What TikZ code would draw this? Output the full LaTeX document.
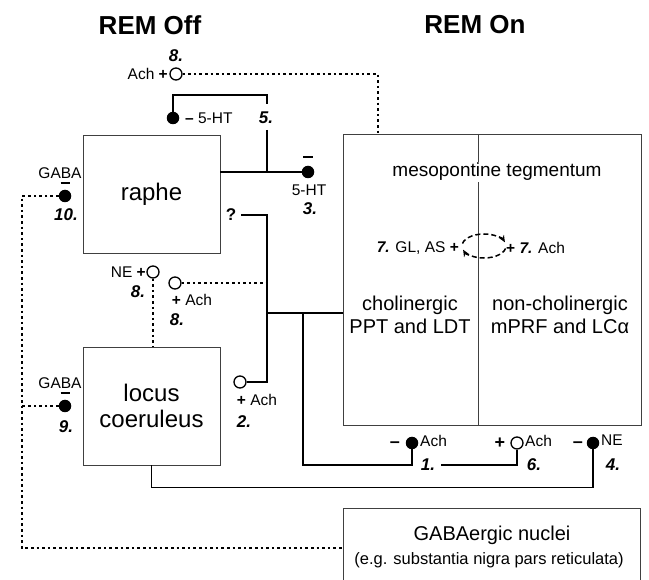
\documentclass[tikz,border=0pt]{standalone}
\usepackage{fontspec}
\setmainfont{Liberation Sans}
\usetikzlibrary{arrows.meta}
\begin{document}
\begin{tikzpicture}[x=1pt,y=-1pt,
  box/.style={draw=black!75,line width=0.9pt,inner sep=0pt},
  conn/.style={line width=1.8pt},
  dotc/.style={line width=2pt,dash pattern=on 2.6pt off 3pt},
  fdot/.style={circle,fill=black,inner sep=0pt,minimum size=12.5pt},
  odot/.style={circle,draw=black,fill=white,line width=1.3pt,inner sep=0pt,minimum size=12pt},
  bar/.style={line width=1.6pt},
  lbl/.style={font=\fontsize{15.5}{18}\selectfont,inner sep=0pt},
  sgn/.style={font=\fontsize{18}{20}\selectfont\bfseries,inner sep=0pt},
  num/.style={font=\fontsize{17}{19}\selectfont\bfseries\itshape,inner sep=0pt},
  title/.style={font=\fontsize{26}{30}\selectfont\bfseries,inner sep=0pt},
  big/.style={font=\fontsize{24}{28}\selectfont,align=center},
  mid/.style={font=\fontsize{20}{23}\selectfont,align=center,inner sep=0pt},
  loop/.style={line width=1.5pt,dash pattern=on 5pt off 3pt,-{Stealth[length=7pt,width=6pt]}}
]
\useasboundingbox (0,0) rectangle (649,580);

% titles
\node[title] (off) at (150,25) {REM Off};
\node[title] (on) at (475,25) {REM On};

% boxes
\node[box,big,minimum width=137pt,minimum height=118pt] (raphe) at (151.5,194) {raphe};
\node[box,big,minimum width=137pt,minimum height=118pt] (locus) at (151.5,406) {locus\\[-2pt]coeruleus};
\node[box,minimum width=298pt,minimum height=291pt] (meso) at (492,279.5) {};
\draw[box] (478,134) -- (478,425);
\node[box,minimum width=297pt,minimum height=100pt] (gaba) at (491.5,558) {};

% texts in boxes
\node[font=\fontsize{19}{22}\selectfont,fill=white,inner sep=1pt] (mt) at (497,172) {mesopontine tegmentum};
\node[mid,fill=white,inner sep=1pt] (chol) at (410,315) {cholinergic\\PPT and LDT};
\node[mid,fill=white,inner sep=1pt] (nonchol) at (560,315) {non-cholinergic\\mPRF and LCα};
\node[font=\fontsize{20}{23}\selectfont,inner sep=0pt] (gt1) at (492,535) {GABAergic nuclei};
\node[font=\fontsize{16.5}{19}\selectfont,inner sep=0pt] (gt2) at (489,560) {(e.g. substantia nigra pars reticulata)};

% 7. loop
\node[lbl,anchor=east] (l7a) at (459,248) {\textbf{\textit{7.}} GL, AS \textbf{+}};
\node[lbl,anchor=west] (l7b) at (506,248) {\textbf{+} \textbf{\textit{7.}} Ach};
\coordinate (lc) at (484,246);
\draw[loop] (lc) ++(192:22 and 12) arc[start angle=192,end angle=342,x radius=22,y radius=12];
\draw[loop] (lc) ++(12:22 and 12) arc[start angle=12,end angle=162,x radius=22,y radius=12];

% connector coordinates
\coordinate (t8) at (378,74);
\coordinate (jv) at (267,215);
\coordinate (jm) at (267,313);
\coordinate (jd) at (303,313);
\coordinate (gl) at (22,548);

% circles (nodes)
\node[odot] (o8a) at (176,74) {};
\node[fdot] (f5) at (173,118) {};
\node[fdot] (f3) at (308,172) {};
\node[fdot] (f10) at (65,196) {};
\node[fdot] (f9) at (65,406) {};
\node[odot] (o8b) at (153,272) {};
\node[odot] (o8c) at (175,283) {};
\node[odot] (o2) at (240,382) {};
\node[fdot] (f1) at (412,443) {};
\node[odot] (o6) at (517,443) {};
\node[fdot] (f4) at (593,443) {};

% connectors
\draw[dotc] (o8a) -- (t8) -- (t8 |- meso.north);
\draw[conn] (f5) -- (173,95) -- (267,95) -- (267,104);
\draw[conn] (267,130) -- (267,172);
\draw[conn] (raphe.east |- f3) -- (f3);
\node[font=\fontsize{17}{19}\selectfont\bfseries,inner sep=0pt] (q) at (231,215) {?};
\draw[conn] ([xshift=5pt]q.east) -- (jv) -- (267,382) -- (o2);
\draw[dotc] (o8c) -- (o8c -| jv);
\draw[conn] (jm) -- (jm -| meso.west);
\draw[conn] (jd) |- (412,465) -- (f1);
\draw[conn] (441,465) -| (o6);
\draw[conn] (locus.south) -- ++(0,22) -| (f4);
\draw[dotc] (o8b) -- (o8b |- locus.north);
\draw[dotc] (f10) -| (gl) -- (gl -| gaba.west);
\draw[dotc] (f9) -- (f9 -| gl);

% bars over inhibitory circles
\draw[bar] ([shift={(-5,-15)}]f3.center) -- ([shift={(5,-15)}]f3.center);
\draw[bar] ([shift={(-4.5,-13)}]f10.center) -- ([shift={(4.5,-13)}]f10.center);
\draw[bar] ([shift={(-4.5,-13)}]f9.center) -- ([shift={(4.5,-13)}]f9.center);

% labels
\node[num] (l8a) at (176,56) {8.};
\node[lbl,anchor=east] (ach8a) at (168,74) {Ach \textbf{+}};
\node[lbl,anchor=west] (ht5) at (185,118) {\textbf{–} 5-HT};
\node[num] (l5) at (266,118) {5.};
\node[lbl] (ht3) at (309,190) {5-HT};
\node[num] (l3) at (310,209) {3.};
\node[lbl] (gaba10) at (60,173) {GABA};
\node[num] (l10) at (66,215) {10.};
\node[lbl,anchor=east] (ne8) at (146,272) {NE \textbf{+}};
\node[num] (l8b) at (138,292) {8.};
\node[lbl] (ach8c) at (192,300) {\textbf{+} Ach};
\node[num] (l8c) at (177,320) {8.};
\node[lbl] (ach2) at (257,400) {\textbf{+} Ach};
\node[num] (l2) at (244,422) {2.};
\node[lbl] (gaba9) at (60,383) {GABA};
\node[num] (l9) at (66,427) {9.};
\node[sgn] (m1) at (395,445) {–};
\node[lbl,anchor=west] (ach1) at (420,441) {Ach};
\node[num] (l1) at (428,465) {1.};
\node[sgn] (p6) at (500,443) {+};
\node[lbl,anchor=west] (ach6) at (525,441) {Ach};
\node[num] (l6) at (534,465) {6.};
\node[sgn] (m4) at (578,445) {–};
\node[lbl,anchor=west] (ne4) at (601,440) {NE};
\node[num] (l4) at (613,465) {4.};
\end{tikzpicture}
\end{document}
